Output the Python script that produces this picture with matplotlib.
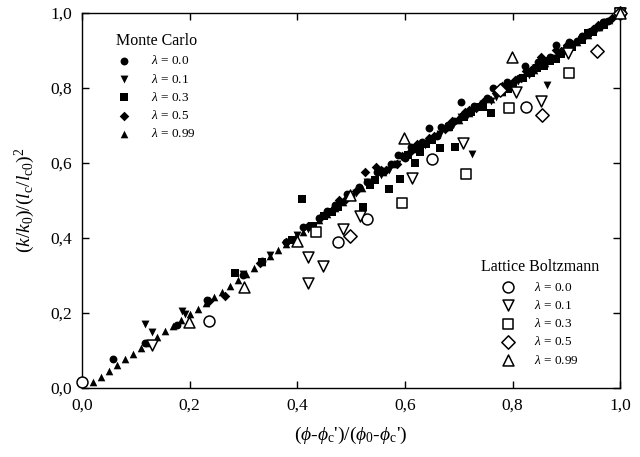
import matplotlib
matplotlib.use('Agg')
import matplotlib.pyplot as plt

# ── Data ───────────────────────────────────────────────────────────────────────
# Monte Carlo, filled markers
mc_x_00 = [0.058, 0.118, 0.177, 0.232, 0.300, 0.334, 0.380, 0.410, 0.440, 0.470, 0.500, 0.530,
           0.560, 0.587, 0.600, 0.620, 0.645, 0.660, 0.680, 0.704, 0.720, 0.740, 0.764, 0.780,
           0.800, 0.823, 0.840, 0.860, 0.881, 0.900, 0.920, 0.940, 0.960, 0.978, 1.000,
           0.455, 0.515, 0.575, 0.632, 0.692, 0.752, 0.812, 0.870, 0.930, 0.968,
           0.492, 0.548, 0.612, 0.668, 0.728, 0.790, 0.848, 0.905]
mc_y_00 = [0.077, 0.121, 0.168, 0.235, 0.300, 0.338, 0.388, 0.429, 0.452, 0.488, 0.512, 0.548,
           0.578, 0.621, 0.612, 0.640, 0.693, 0.672, 0.700, 0.763, 0.735, 0.752, 0.800, 0.792,
           0.812, 0.859, 0.850, 0.868, 0.915, 0.905, 0.925, 0.944, 0.962, 0.979, 1.000,
           0.472, 0.535, 0.596, 0.655, 0.712, 0.772, 0.826, 0.882, 0.938, 0.975,
           0.518, 0.575, 0.642, 0.695, 0.752, 0.815, 0.868, 0.922]

mc_x_01 = [0.117, 0.130, 0.186, 0.192, 0.300, 0.350, 0.400, 0.420, 0.455, 0.480, 0.510, 0.530,
           0.555, 0.570, 0.600, 0.620, 0.650, 0.665, 0.690, 0.705, 0.725, 0.745, 0.770, 0.790,
           0.810, 0.830, 0.864, 0.875, 0.895, 0.915, 0.935, 0.955, 0.975, 1.000,
           0.585, 0.638, 0.715, 0.760, 0.842, 0.885, 0.945]
mc_y_01 = [0.171, 0.149, 0.205, 0.198, 0.303, 0.355, 0.408, 0.425, 0.462, 0.490, 0.520, 0.548,
           0.568, 0.580, 0.612, 0.640, 0.660, 0.678, 0.700, 0.722, 0.624, 0.758, 0.775, 0.800,
           0.818, 0.835, 0.808, 0.880, 0.895, 0.913, 0.935, 0.955, 0.975, 1.000,
           0.598, 0.648, 0.725, 0.765, 0.852, 0.892, 0.948]

mc_x_03 = [0.284, 0.335, 0.390, 0.409, 0.430, 0.450, 0.475, 0.500, 0.523, 0.545, 0.571, 0.591,
           0.619, 0.640, 0.665, 0.693, 0.710, 0.735, 0.760, 0.780, 0.800, 0.820, 0.845, 0.870,
           0.890, 0.910, 0.930, 0.950, 0.970, 1.000,
           0.605, 0.650, 0.682, 0.722, 0.792, 0.835, 0.880, 0.940,
           0.465, 0.535, 0.628, 0.745, 0.858]
mc_y_03 = [0.307, 0.336, 0.395, 0.504, 0.432, 0.458, 0.482, 0.508, 0.483, 0.555, 0.531, 0.557,
           0.600, 0.650, 0.640, 0.643, 0.722, 0.748, 0.733, 0.788, 0.808, 0.825, 0.852, 0.872,
           0.890, 0.908, 0.928, 0.948, 0.968, 1.000,
           0.622, 0.662, 0.695, 0.735, 0.798, 0.840, 0.878, 0.945,
           0.468, 0.540, 0.630, 0.750, 0.858]

mc_x_05 = [0.236, 0.266, 0.330, 0.380, 0.420, 0.445, 0.470, 0.490, 0.510, 0.526, 0.546, 0.565,
           0.585, 0.610, 0.630, 0.655, 0.675, 0.700, 0.720, 0.745, 0.770, 0.790, 0.815, 0.835,
           0.853, 0.870, 0.890, 0.910, 0.930, 0.950, 0.965, 0.985, 1.000,
           0.595, 0.645, 0.688, 0.732, 0.805, 0.858, 0.902, 0.958,
           0.478, 0.555, 0.622, 0.712, 0.780, 0.825, 0.880]
mc_y_05 = [0.233, 0.245, 0.332, 0.390, 0.432, 0.455, 0.482, 0.505, 0.525, 0.576, 0.589, 0.580,
           0.598, 0.628, 0.648, 0.672, 0.690, 0.718, 0.742, 0.762, 0.785, 0.800, 0.825, 0.848,
           0.883, 0.878, 0.898, 0.918, 0.935, 0.958, 0.965, 0.985, 1.000,
           0.618, 0.666, 0.712, 0.745, 0.822, 0.872, 0.915, 0.968,
           0.502, 0.580, 0.650, 0.735, 0.805, 0.845, 0.900]

mc_x_099 = [0.020, 0.035, 0.050, 0.065, 0.080, 0.095, 0.110, 0.125, 0.140, 0.155, 0.170, 0.185,
            0.200, 0.215, 0.230, 0.245, 0.260, 0.275, 0.290, 0.305, 0.320, 0.335, 0.350, 0.365,
            0.380, 0.395, 0.410, 0.425, 0.440, 0.455, 0.470, 0.485, 0.500, 0.520, 0.540, 0.560,
            0.580, 0.600, 0.620, 0.640, 0.660, 0.680, 0.700, 0.720, 0.740, 0.760, 0.780, 0.800,
            0.820, 0.840, 0.860, 0.880, 0.900, 0.920, 0.940, 0.960, 0.980, 1.000]
mc_y_099 = [0.016, 0.030, 0.045, 0.061, 0.076, 0.091, 0.106, 0.121, 0.136, 0.151, 0.166, 0.181,
            0.196, 0.211, 0.226, 0.242, 0.257, 0.273, 0.288, 0.304, 0.320, 0.336, 0.352, 0.368,
            0.384, 0.400, 0.416, 0.432, 0.449, 0.465, 0.481, 0.497, 0.513, 0.534, 0.556, 0.577,
            0.597, 0.617, 0.637, 0.657, 0.676, 0.695, 0.714, 0.733, 0.752, 0.771, 0.790, 0.810,
            0.829, 0.848, 0.866, 0.885, 0.904, 0.923, 0.942, 0.961, 0.980, 1.000]

# Lattice Boltzmann, open markers
lb_x_00 = [0.000, 0.236, 0.476, 0.529, 0.650, 0.825, 1.000]
lb_y_00 = [0.015, 0.179, 0.389, 0.451, 0.611, 0.748, 1.000]

lb_x_01 = [0.130, 0.420, 0.420, 0.448, 0.485, 0.517, 0.613, 0.708, 0.807, 0.853, 0.903, 1.000]
lb_y_01 = [0.115, 0.280, 0.349, 0.325, 0.424, 0.459, 0.560, 0.653, 0.789, 0.765, 0.893, 1.000]

lb_x_03 = [0.435, 0.594, 0.714, 0.794, 0.905, 1.000]
lb_y_03 = [0.416, 0.493, 0.571, 0.747, 0.840, 1.000]

lb_x_05 = [0.498, 0.777, 0.855, 0.957, 1.000]
lb_y_05 = [0.405, 0.795, 0.728, 0.899, 1.000]

lb_x_099 = [0.199, 0.301, 0.400, 0.498, 0.598, 0.799, 1.000]
lb_y_099 = [0.176, 0.269, 0.392, 0.515, 0.667, 0.883, 1.000]

LAMBDAS = ['0.0', '0.1', '0.3', '0.5', '0.99']
MARKERS = ['o', 'v', 's', 'D', '^']
FILLED_SIZE = [32, 32, 28, 24, 30]
OPEN_SIZE = [62, 62, 54, 46, 62]

# ── Style ─────────────────────────────────────────────────────────────────────
plt.rcParams['font.family'] = ['Liberation Serif', 'DejaVu Serif']
plt.rcParams['mathtext.fontset'] = 'custom'
plt.rcParams['mathtext.rm'] = 'Liberation Serif'
plt.rcParams['mathtext.it'] = 'Liberation Serif:italic'
plt.rcParams['mathtext.bf'] = 'Liberation Serif:bold'

fig = plt.figure(figsize=(6.4, 4.57), dpi=100)
ax = fig.add_axes([0.128, 0.151, 0.841, 0.821])

mc_sets = [(mc_x_00, mc_y_00), (mc_x_01, mc_y_01), (mc_x_03, mc_y_03),
           (mc_x_05, mc_y_05), (mc_x_099, mc_y_099)]
lb_sets = [(lb_x_00, lb_y_00), (lb_x_01, lb_y_01), (lb_x_03, lb_y_03),
           (lb_x_05, lb_y_05), (lb_x_099, lb_y_099)]

mc_handles = []
for (xs, ys), m, s in zip(mc_sets, MARKERS, FILLED_SIZE):
    h = ax.scatter(xs, ys, marker=m, s=s, c='black', linewidths=0, clip_on=False, zorder=3)
    mc_handles.append(h)

lb_handles = []
for (xs, ys), m, s in zip(lb_sets, MARKERS, OPEN_SIZE):
    h = ax.scatter(xs, ys, marker=m, s=s, facecolors='white', edgecolors='black',
                   linewidths=1.1, clip_on=False, zorder=4)
    lb_handles.append(h)

labels = [r'$\lambda$ = ' + l for l in LAMBDAS]

leg1 = ax.legend(mc_handles, labels, title='Monte Carlo', loc='center',
                 bbox_to_anchor=(0.139, 0.803), frameon=False, fontsize=9.5,
                 title_fontsize=11.5, scatterpoints=1, handlelength=1.0,
                 handletextpad=1.5, labelspacing=0.4, borderpad=0)
ax.add_artist(leg1)
ax.legend(lb_handles, labels, title='Lattice Boltzmann', loc='center',
          bbox_to_anchor=(0.851, 0.20), frameon=False, fontsize=9.5,
          title_fontsize=11.5, scatterpoints=1, handlelength=1.0,
          handletextpad=1.5, labelspacing=0.4, borderpad=0)

ax.set_xlim(0, 1)
ax.set_ylim(0, 1)
ticks = [0.0, 0.2, 0.4, 0.6, 0.8, 1.0]
ticklabels = ['0,0', '0,2', '0,4', '0,6', '0,8', '1,0']
ax.set_xticks(ticks)
ax.set_xticklabels(ticklabels)
ax.set_yticks(ticks)
ax.set_yticklabels(ticklabels)
ax.tick_params(direction='in', length=5, width=1, labelsize=12.5,
               top=True, right=True, pad=7)
for sp in ax.spines.values():
    sp.set_linewidth(1)

ax.set_xlabel(r"$(\phi$-$\phi_{\mathrm{c}}$')/($\phi_{0}$-$\phi_{\mathrm{c}}$')", fontsize=14, labelpad=8)
ax.set_ylabel(r"$(k/k_{0})/(l_{\mathrm{c}}/l_{\mathrm{c0}})^{2}$", fontsize=14, labelpad=10)

fig.savefig('out.png', dpi=100)
